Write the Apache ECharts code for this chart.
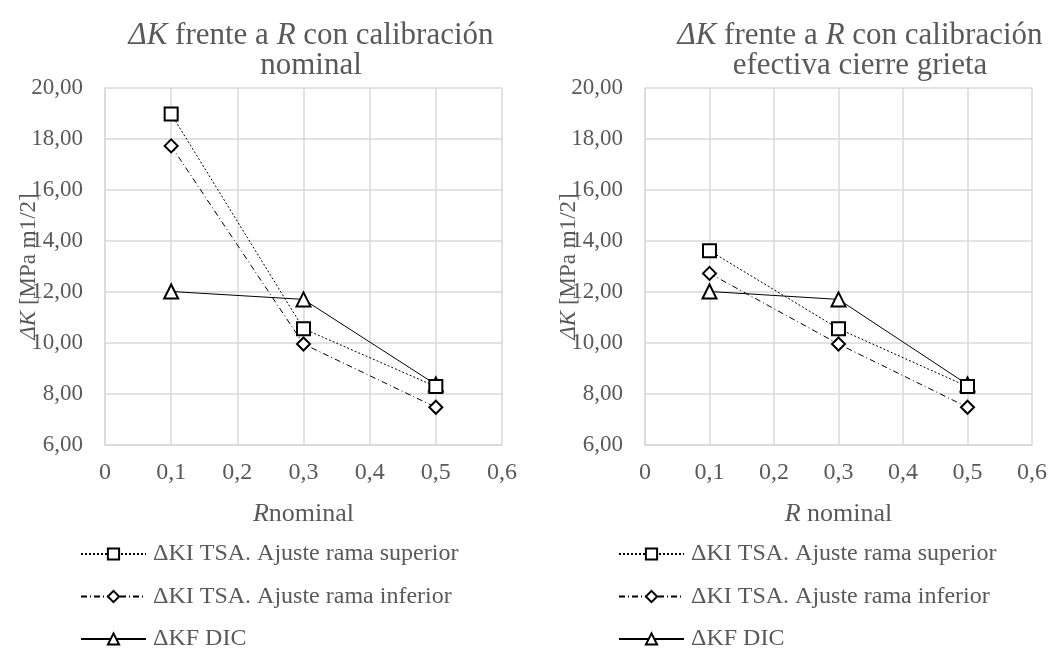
<!DOCTYPE html>
<html>
<head>
<meta charset="utf-8">
<script src="https://cdn.jsdelivr.net/npm/echarts@6/dist/echarts.min.js"></script>
<style>
  html, body { margin: 0; padding: 0; background: #fff; }
  #chart { width: 1050px; height: 653px; }
</style>
</head>
<body>
<div id="chart"></div>
<script>
// Load ratio R (x positions of the measurements)
const rValues = [0.1, 0.3, 0.5];

// ΔK [MPa m1/2], nominal calibration
const nominalSuperior = [18.98, 10.56, 8.29];
const nominalInferior = [17.73, 9.96, 7.48];

// ΔK [MPa m1/2], effective crack-closure calibration
const effectiveSuperior = [13.62, 10.56, 8.29];
const effectiveInferior = [12.73, 9.96, 7.48];

// ΔKF measured by DIC (same in both panels)
const dicValues = [12.02, 11.71, 8.37];

const seriesNames = [
  'ΔKI TSA. Ajuste rama superior',
  'ΔKI TSA. Ajuste rama inferior',
  'ΔKF DIC'
];

const FONT = "'Liberation Serif', 'Times New Roman', serif";
const GREY = '#595959';
const GRID_COLOR = '#d9d9d9';

const pairs = (ys) => rValues.map((x, i) => [x, ys[i]]);

const richItalic = (size) => ({
  i: { fontStyle: 'italic', fontFamily: FONT, fontSize: size, color: GREY },
  n: { fontFamily: FONT, fontSize: size, color: GREY }
});

function xAxis(gridIndex, name) {
  return {
    type: 'value', gridIndex, min: 0, max: 0.6, interval: 0.1,
    name, nameLocation: 'middle', nameGap: 56, nameMoveOverlap: false,
    nameTextStyle: { fontFamily: FONT, fontSize: 26, color: GREY, rich: richItalic(26) },
    axisLine: { show: true, lineStyle: { color: GRID_COLOR, width: 1.5 } },
    axisTick: { show: false },
    splitLine: { show: true, lineStyle: { color: GRID_COLOR, width: 1.5 } },
    axisLabel: {
      fontFamily: FONT, fontSize: 24, color: GREY, margin: 16,
      formatter: v => (Math.round(v * 10) / 10).toString().replace('.', ',')
    }
  };
}

function yAxis(gridIndex) {
  return {
    type: 'value', gridIndex, min: 6, max: 20, interval: 2,
    name: '{i|ΔK} {n|[MPa m1/2]}', nameLocation: 'middle', nameGap: 65,
    nameRotate: 90, nameMoveOverlap: false,
    nameTextStyle: { fontFamily: FONT, fontSize: 23, color: GREY, rich: richItalic(23) },
    axisLine: { show: true, lineStyle: { color: GRID_COLOR, width: 1.5 } },
    axisTick: { show: false },
    splitLine: { show: true, lineStyle: { color: GRID_COLOR, width: 1.5 } },
    axisLabel: {
      fontFamily: FONT, fontSize: 23, color: GREY, margin: 22,
      formatter: v => v.toFixed(2).replace('.', ',')
    }
  };
}

const styles = [
  { symbol: 'emptyRect', dash: [2, 2] },
  { symbol: 'emptyDiamond', dash: [6, 3, 1, 3] },
  { symbol: 'emptyTriangle', dash: 'solid' }
];

function lineSeries(idx, axisIndex, values) {
  const s = styles[idx];
  return {
    type: 'line', name: seriesNames[idx],
    xAxisIndex: axisIndex, yAxisIndex: axisIndex,
    data: pairs(values),
    symbol: s.symbol, symbolSize: idx === 2 ? 14 : 13,
    lineStyle: { color: '#000', width: 1, type: s.dash },
    itemStyle: { color: '#000', borderColor: '#000', borderWidth: 2 },
    animation: false, z: 3 - idx
  };
}

function legend(left) {
  return {
    orient: 'vertical', left, top: 542, height: 111, padding: 0,
    data: seriesNames, itemWidth: 65, itemHeight: 14, itemGap: 18.5,
    selectedMode: false,
    textStyle: { fontFamily: FONT, fontSize: 24, color: GREY, padding: [0, 0, 0, 2] }
  };
}

const titleStyle = {
  fontFamily: FONT, fontSize: 31, fontWeight: 'normal', color: GREY, lineHeight: 30,
  rich: {
    i: { fontStyle: 'italic', fontFamily: FONT, fontSize: 31, color: GREY, lineHeight: 30 },
    n: { fontFamily: FONT, fontSize: 31, color: GREY, lineHeight: 30 }
  }
};

const chart = echarts.init(document.getElementById('chart'), null, { renderer: 'canvas' });
chart.setOption({
  backgroundColor: '#fff',
  animation: false,
  title: [
    {
      text: '{i|ΔK}{n| frente a }{i|R}{n| con calibración}\n{n|nominal}',
      left: 306, top: 16, textAlign: 'center', textStyle: titleStyle
    },
    {
      text: '{i|ΔK}{n| frente a }{i|R}{n| con calibración}\n{n|efectiva cierre grieta}',
      left: 855, top: 16, textAlign: 'center', textStyle: titleStyle
    }
  ],
  legend: [legend(80), legend(618)],
  grid: [
    { left: 105, right: 548, top: 88, bottom: 208 },
    { left: 645, right: 17, top: 88, bottom: 208 }
  ],
  xAxis: [xAxis(0, '{i|R}{n|nominal}'), xAxis(1, '{i|R}{n| nominal}')],
  yAxis: [yAxis(0), yAxis(1)],
  series: [
    lineSeries(0, 0, nominalSuperior),
    lineSeries(1, 0, nominalInferior),
    lineSeries(2, 0, dicValues),
    lineSeries(0, 1, effectiveSuperior),
    lineSeries(1, 1, effectiveInferior),
    lineSeries(2, 1, dicValues)
  ]
});
</script>
</body>
</html>
